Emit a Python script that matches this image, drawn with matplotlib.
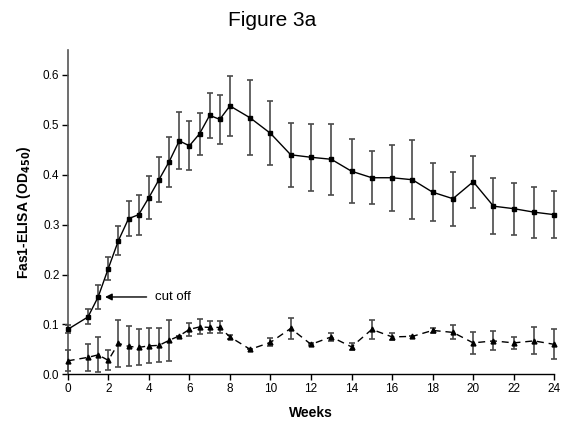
import matplotlib.pyplot as plt

# Fas1-ELISA readings over time (mean and error per time point)
weeks = [0, 1, 1.5, 2, 2.5, 3, 3.5, 4, 4.5, 5, 5.5, 6, 6.5, 7, 7.5, 8,
         9, 10, 11, 12, 13, 14, 15, 16, 17, 18, 19, 20, 21, 22, 23, 24]

immunized_od = [0.090, 0.115, 0.155, 0.212, 0.268, 0.312, 0.320, 0.354,
                0.390, 0.426, 0.468, 0.458, 0.482, 0.519, 0.511, 0.538,
                0.514, 0.483, 0.440, 0.435, 0.431, 0.407, 0.394, 0.394,
                0.390, 0.365, 0.352, 0.386, 0.337, 0.332, 0.325, 0.320]
immunized_err = [0.008, 0.015, 0.024, 0.023, 0.029, 0.035, 0.040, 0.043,
                 0.045, 0.050, 0.057, 0.049, 0.042, 0.045, 0.049, 0.060,
                 0.075, 0.064, 0.064, 0.067, 0.071, 0.064, 0.053, 0.066,
                 0.079, 0.058, 0.054, 0.052, 0.056, 0.052, 0.051, 0.047]

control_od = [0.027, 0.034, 0.039, 0.028, 0.062, 0.056, 0.054, 0.057,
              0.058, 0.068, 0.077, 0.090, 0.095, 0.094, 0.094, 0.075,
              0.050, 0.064, 0.092, 0.060, 0.075, 0.055, 0.090, 0.075,
              0.076, 0.088, 0.084, 0.063, 0.067, 0.063, 0.067, 0.060]
control_err = [0.021, 0.027, 0.035, 0.020, 0.047, 0.040, 0.036, 0.035,
               0.034, 0.041, 0.000, 0.013, 0.015, 0.012, 0.012, 0.004,
               0.000, 0.008, 0.021, 0.002, 0.008, 0.007, 0.019, 0.007,
               0.000, 0.005, 0.014, 0.022, 0.019, 0.012, 0.027, 0.030]

cutoff_week = 1.5
cutoff_value = 0.155

plt.rcParams["font.family"] = ["Liberation Sans", "DejaVu Sans"]

fig = plt.figure(figsize=(5.62, 4.21), dpi=100)
ax = fig.add_axes([0.1205, 0.1109, 0.8658, 0.7703])

ax.errorbar(weeks, immunized_od, yerr=immunized_err, color="black", lw=1.0,
            marker="s", ms=3.5, ecolor="#4a4a4a", elinewidth=1.2,
            capsize=2.2, capthick=1.2, clip_on=False, zorder=3)
ax.errorbar(weeks, control_od, yerr=control_err, color="black", lw=1.0,
            ls=(0, (5, 3.5)), marker="^", ms=3.5, ecolor="#4a4a4a",
            elinewidth=1.2, capsize=2.2, capthick=1.2, clip_on=False, zorder=3)

ax.annotate("cut off", xy=(cutoff_week + 0.34, cutoff_value),
            xytext=(4.3, cutoff_value), fontsize=9.5, va="center",
            arrowprops=dict(arrowstyle="-|>", color="black", lw=1.0,
                            mutation_scale=10, shrinkA=4, shrinkB=0))

ax.set_xlim(0, 24)
ax.set_ylim(0, 0.65)
ax.set_xticks(range(0, 25, 2))
ax.set_yticks([0.0, 0.1, 0.2, 0.3, 0.4, 0.5, 0.6])
ax.set_yticklabels(["0.0", "0.1", "0.2", "0.3", "0.4", "0.5", "0.6"])
ax.tick_params(axis="both", labelsize=8.5, length=4, width=1.0, pad=2)

ax.spines["top"].set_visible(False)
ax.spines["right"].set_visible(False)
ax.spines["left"].set_color("#555555")
ax.spines["left"].set_linewidth(1.2)
ax.spines["bottom"].set_linewidth(1.0)

ax.set_xlabel("Weeks", fontsize=10, fontweight="bold", labelpad=8)
ax.set_ylabel(r"Fas1-ELISA (OD$_{\mathbf{450}}$)", fontsize=10,
              fontweight="bold", labelpad=7)

fig.text(272 / 562, 1 - 21 / 421, "Figure 3a", fontsize=15,
         ha="center", va="center")

fig.savefig("out.png", dpi=100)
